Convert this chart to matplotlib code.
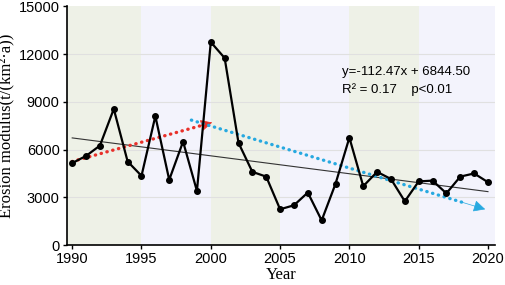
import matplotlib
matplotlib.use('Agg')
import matplotlib.pyplot as plt

# ── data ─────────────────────────────────────────────────────────────────────

years = list(range(1990, 2021))
erosion = [5150, 5600, 6250, 8550, 5250, 4350, 8100, 4100, 6500, 3400,
           12750, 11750, 6420, 4600, 4300, 2250, 2500, 3300, 1550, 3850,
           6750, 3700, 4600, 4150, 2750, 4000, 4050, 3250, 4300, 4500, 3950]

slope, intercept = -112.47, 6844.50

red_start, red_end = (1990, 5250), (2000.1, 7700)
blue_start, blue_end = (1998.6, 7850), (2019.8, 2250)

band_edges = [1989.6, 1995, 2000, 2005, 2010, 2015, 2020.5]
band_colors = ['#eef1e7', '#f3f3fc', '#eef1e7', '#f3f3fc', '#eef1e7', '#f3f3fc']

# ── helpers ──────────────────────────────────────────────────────────────────

def dotted_arrow(ax, start, end, color):
    # dotted shaft + solid head
    f = 0.92
    mid = (start[0] + (end[0] - start[0]) * f, start[1] + (end[1] - start[1]) * f)
    ax.plot([start[0], mid[0]], [start[1], mid[1]], color=color, lw=2.4,
            linestyle=(0, (0.1, 1.7)), dash_capstyle='round', zorder=3)
    ax.annotate('', xy=end, xytext=mid,
                arrowprops=dict(arrowstyle='-|>', color=color, lw=0.5,
                                mutation_scale=18, shrinkA=0, shrinkB=0),
                zorder=3)

# ── figure ───────────────────────────────────────────────────────────────────

fig = plt.figure(figsize=(5.05, 2.85), dpi=100)
ax = fig.add_axes([0.132, 0.14, 0.848, 0.838])

for x0, x1, c in zip(band_edges[:-1], band_edges[1:], band_colors):
    ax.axvspan(x0, x1, color=c, lw=0, zorder=0)

for v in [3000, 6000, 9000, 12000]:
    ax.axhline(v, color='#e0e0e0', lw=0.8, zorder=1)

# linear trend (x = year index starting at 1)
idx = [y - 1989 for y in years]
trend = [slope * i + intercept for i in idx]
ax.plot(years, trend, color='#333333', lw=0.8, zorder=2)

ax.plot(years, erosion, color='black', lw=1.6, marker='o', ms=4, zorder=4)

dotted_arrow(ax, red_start, red_end, '#e8302a')
dotted_arrow(ax, blue_start, blue_end, '#27a9e0')

ax.text(2009.5, 10900, 'y=-112.47x + 6844.50', fontsize=9.5,
        family='Liberation Sans', va='center')
ax.text(2009.5, 9750, 'R² = 0.17    p<0.01', fontsize=9.5,
        family='Liberation Sans', va='center')

ax.set_xlim(band_edges[0], band_edges[-1])
ax.set_ylim(0, 15000)
ax.set_xticks([1990, 1995, 2000, 2005, 2010, 2015, 2020])
ax.set_yticks([0, 3000, 6000, 9000, 12000, 15000])
for lab in ax.get_xticklabels() + ax.get_yticklabels():
    lab.set_family('Liberation Sans')
    lab.set_fontsize(10.5)
ax.tick_params(direction='out', length=3, width=1, pad=2)

for s in ['top', 'right']:
    ax.spines[s].set_visible(False)
for s in ['left', 'bottom']:
    ax.spines[s].set_linewidth(1.2)

ax.set_xlabel('Year', family='Liberation Serif', fontsize=12, labelpad=1)
ax.set_ylabel('Erosion modulus(t/(km²·a))', family='Liberation Serif',
              fontsize=12, labelpad=3)

plt.savefig('out.png', dpi=100)
plt.close()
